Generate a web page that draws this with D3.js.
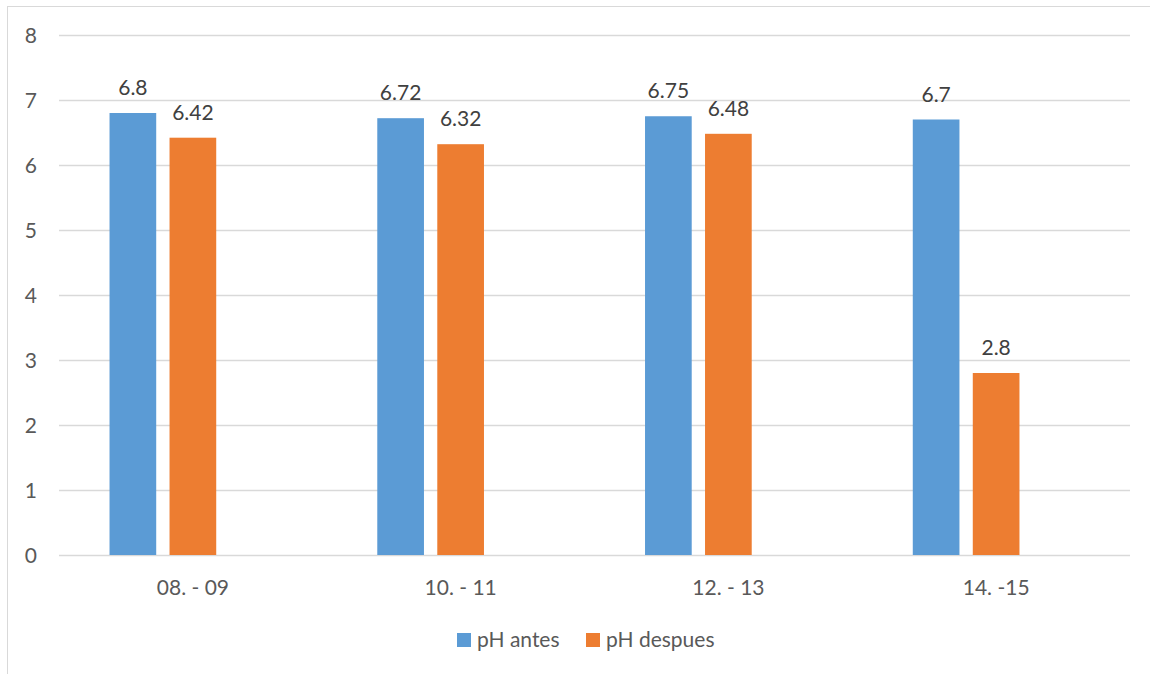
<!DOCTYPE html>
<html>
<head>
<meta charset="utf-8">
<script src="https://cdn.jsdelivr.net/npm/d3@7"></script>
<style>
  html, body { margin: 0; padding: 0; background: #fff; }
  svg { display: block; font-family: Lato, "Open Sans", sans-serif; }
</style>
</head>
<body>
<svg id="chart" width="1150" height="674"></svg>
<script>
// Season periods along the x axis
const categories = ["08. - 09", "10. - 11", "12. - 13", "14. -15"];
// pH measured before and after
const phAntes = [6.8, 6.72, 6.75, 6.7];
const phDespues = [6.42, 6.32, 6.48, 2.8];
const seriesNames = ["pH antes", "pH despues"];
const seriesColors = ["#5B9BD5", "#ED7D31"];
const yTicks = [0, 1, 2, 3, 4, 5, 6, 7, 8];

const svg = d3.select("#chart");
const W = 1150, H = 674;
const plot = { left: 59, right: 1130, top: 35, bottom: 555 };
const FS = 21;

// Outer chart-area frame
svg.append("rect")
  .attr("x", 7.5).attr("y", 6.5)
  .attr("width", W).attr("height", H)
  .attr("fill", "none").attr("stroke", "#D9D9D9").attr("stroke-width", 1);

const x0 = d3.scaleBand().domain(categories).range([plot.left, plot.right]);
// Three slots per category (the third slot is an unused series slot)
const x1 = d3.scaleBand().domain([0, 1, 2]).range([0, x0.bandwidth()])
  .paddingInner(0.222).paddingOuter(0.842);
const y = d3.scaleLinear().domain([0, 8]).range([plot.bottom, plot.top]);

// Horizontal gridlines
svg.append("g").selectAll("line").data(yTicks).join("line")
  .attr("x1", plot.left).attr("x2", plot.right)
  .attr("y1", d => Math.round(y(d)) + 0.5).attr("y2", d => Math.round(y(d)) + 0.5)
  .attr("stroke", "#D9D9D9").attr("stroke-width", 1.3);

// Y axis labels
const yAxis = d3.axisLeft(y).tickValues(yTicks).tickSize(0).tickPadding(0);
svg.append("g").attr("transform", "translate(37,0)").call(yAxis)
  .call(g => g.select(".domain").remove())
  .selectAll("text")
  .attr("fill", "#595959").attr("font-size", FS).attr("font-family", "Lato, sans-serif")
  .attr("dy", "0.36em");

// Category labels
const xAxis = d3.axisBottom(x0).tickSize(0).tickPadding(0);
svg.append("g").attr("transform", `translate(0,${plot.bottom})`).call(xAxis)
  .call(g => g.select(".domain").remove())
  .selectAll("text")
  .attr("fill", "#595959").attr("font-size", FS).attr("font-family", "Lato, sans-serif")
  .attr("dy", null).attr("y", 40);

const series = [phAntes, phDespues];
const groups = svg.append("g");
series.forEach((vals, si) => {
  const data = categories.map((c, i) => ({ c, v: vals[i] }));
  groups.append("g").selectAll("rect").data(data).join("rect")
    .attr("x", d => x0(d.c) + x1(si))
    .attr("width", x1.bandwidth())
    .attr("y", d => y(d.v))
    .attr("height", d => y(0) - y(d.v))
    .attr("fill", seriesColors[si]);
  groups.append("g").selectAll("text").data(data).join("text")
    .attr("x", d => x0(d.c) + x1(si) + x1.bandwidth() / 2)
    .attr("y", d => y(d.v) - 18)
    .attr("text-anchor", "middle")
    .attr("fill", "#404040").attr("font-size", FS)
    .text(d => d.v);
});

// Legend
const legend = svg.append("g");
const legendItems = [
  { name: seriesNames[0], color: seriesColors[0], x: 457 },
  { name: seriesNames[1], color: seriesColors[1], x: 586 }
];
legendItems.forEach(it => {
  legend.append("rect").attr("x", it.x).attr("y", 633).attr("width", 14).attr("height", 14)
    .attr("fill", it.color);
  legend.append("text").attr("x", it.x + 20).attr("y", 647)
    .attr("fill", "#595959").attr("font-size", FS).text(it.name);
});
</script>
</body>
</html>
